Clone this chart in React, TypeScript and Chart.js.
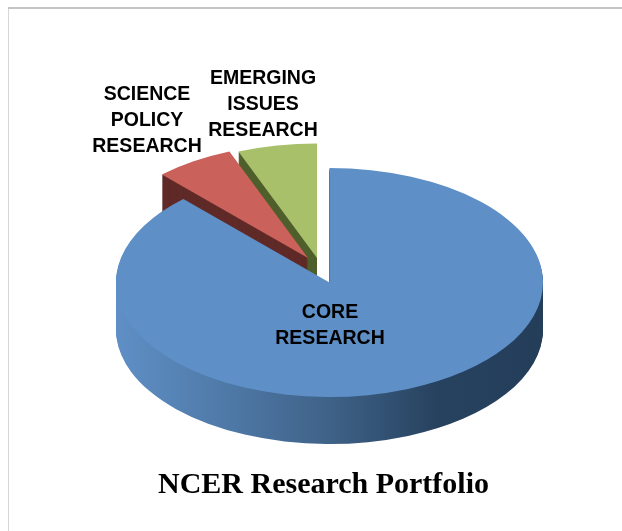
import React, { useEffect, useRef } from "react";
import { Chart, registerables } from "chart.js";

Chart.register(...registerables);

const categories = [
  ["CORE", "RESEARCH"],
  ["SCIENCE", "POLICY", "RESEARCH"],
  ["EMERGING", "ISSUES", "RESEARCH"],
];
const shares = [88, 6, 6];
const topColors = ["#5e90c7", "#cb615b", "#a8c06a"];
const wallColors = ["#3f6288", "#5f2a27", "#4f5f2c"];
const titleText = "NCER Research Portfolio";

const CX = 329.5;
const CY = 282.5;
const RX = 213.5;
const SQUASH = 114.5 / 213.5;
const DEPTH = 47;
const explode = [
  [0, 0],
  [-21.5, -24.5],
  [-12.5, -24.5],
];
const labelPos = [
  [330, 313],
  [147, 95],
  [263, 79],
];
const LINE_GAP = 26;

const pie3d = {
  id: "pie3d",
  beforeDraw(chart: any) {
    const { ctx } = chart;
    ctx.save();
    ctx.fillStyle = "#ffffff";
    ctx.fillRect(0, 0, chart.width, chart.height);
    ctx.fillStyle = "#d6d6d6";
    ctx.fillRect(8, 7, 1, chart.height - 7);
    ctx.fillStyle = "#c4c4c4";
    ctx.fillRect(8, 7, chart.width - 8, 2);
    ctx.restore();
  },
  beforeDatasetsDraw(chart: any) {
    const { ctx } = chart;
    const arcs = chart.getDatasetMeta(0).data;
    const order = [2, 1, 0];
    for (const i of order) {
      const el = arcs[i];
      const base = el.options;
      ctx.save();
      ctx.translate(CX + explode[i][0], CY + explode[i][1]);
      ctx.scale(1, SQUASH);
      ctx.translate(-el.x, -el.y);
      let wall: any = wallColors[i];
      if (i === 0) {
        const g = ctx.createLinearGradient(el.x - RX, 0, el.x + RX, 0);
        g.addColorStop(0, "#5f8fc6");
        g.addColorStop(0.25, "#4f7aa8");
        g.addColorStop(0.5, "#3f6288");
        g.addColorStop(0.75, "#27425f");
        g.addColorStop(1, "#243e5a");
        wall = g;
      }
      el.options = { ...base, backgroundColor: wall };
      for (let d = DEPTH; d >= 1; d--) {
        ctx.save();
        ctx.translate(0, d / SQUASH);
        el.draw(ctx);
        ctx.restore();
      }
      el.options = base;
      el.draw(ctx);
      ctx.restore();
    }
    ctx.save();
    ctx.fillStyle = "#000000";
    ctx.font = 'bold 19.5px "Liberation Sans"';
    ctx.textAlign = "center";
    ctx.textBaseline = "middle";
    categories.forEach((lines, i) => {
      lines.forEach((line, j) => {
        ctx.fillText(line, labelPos[i][0], labelPos[i][1] + j * LINE_GAP);
      });
    });
    ctx.restore();
    return false;
  },
};

export default function App() {
  const ref = useRef<HTMLCanvasElement | null>(null);
  useEffect(() => {
    document.body.style.margin = "0";
    document.body.style.background = "#ffffff";
    const chart = new Chart(ref.current as HTMLCanvasElement, {
      type: "pie",
      data: {
        labels: categories,
        datasets: [
          {
            data: shares,
            backgroundColor: topColors,
            borderWidth: 0,
          },
        ],
      },
      options: {
        animation: false,
        responsive: false,
        radius: RX,
        layout: { padding: { left: 25, right: 0, top: 0, bottom: 18 } },
        plugins: {
          legend: { display: false },
          tooltip: { enabled: false },
          title: {
            display: true,
            text: titleText,
            position: "bottom",
            color: "#000000",
            font: { family: '"Liberation Serif"', weight: "bold", size: 30 },
          },
        },
      } as any,
      plugins: [pie3d],
    });
    return () => chart.destroy();
  }, []);
  return <canvas ref={ref} width={622} height={531} style={{ display: "block", width: 622, height: 531 }} />;
}
